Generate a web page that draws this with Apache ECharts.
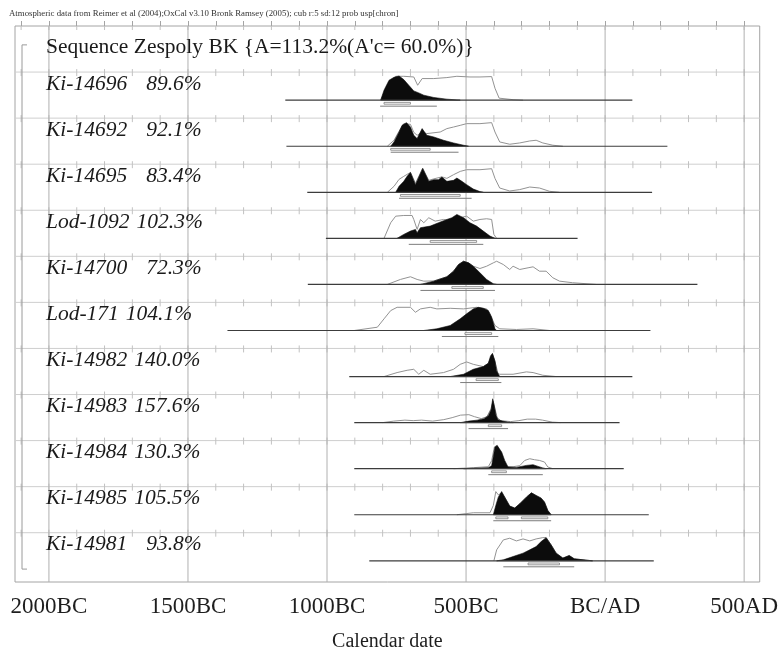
<!DOCTYPE html>
<html><head><meta charset="utf-8">
<script src="https://cdn.jsdelivr.net/npm/echarts@6/dist/echarts.min.js"></script>
<style>html,body{margin:0;padding:0;background:#fff}#c{width:781px;height:657px}</style>
</head><body><div id="c"></div>
<script>
// ---------------- data ----------------
const headerNote = 'Atmospheric data from Reimer et al (2004);OxCal v3.10 Bronk Ramsey (2005); cub r:5 sd:12 prob usp[chron]';
const sequenceLabel = "Sequence Zespoly BK {A=113.2%(A'c= 60.0%)}";
const sampleNames = ['Ki-14696','Ki-14692','Ki-14695','Lod-1092','Ki-14700','Lod-171','Ki-14982','Ki-14983','Ki-14984','Ki-14985','Ki-14981'];
const agreementIndex = [89.6, 92.1, 83.4, 102.3, 72.3, 104.1, 140.0, 157.6, 130.3, 105.5, 93.8];
const tickLabelYears = [-2000, -1500, -1000, -500, 0, 500];
const minorTickYears = [-2100,-2000,-1900,-1800,-1700,-1600,-1500,-1400,-1300,-1200,-1100,-1000,-900,-800,-700,-600,-500,-400,-300,-200,-100,0,100,200,300,400,500];
// extent of each distribution's baseline (years, BC negative)
const baselineExtent = [[-1150,98],[-1146,224],[-1071,169],[-1004,-99],[-1069,332],[-1358,163],[-920,98],[-902,52],[-902,67],[-902,157],[-848,175]];
// unmodelled likelihoods (outline) [year, relative probability]
const likelihoodCurves = [
 [[-807,0],[-783,15],[-753,24],[-724,24],[-688,23.3],[-674,15],[-658,21.7],[-616,21.7],[-569,22.7],[-533,24],[-486,23.3],[-450,23.3],[-408,23.7],[-396,12],[-381,2],[-331,0.5],[-295,0]],
 [[-783,0],[-759,6],[-741,15],[-724,22.7],[-700,22],[-688,14],[-676,11],[-658,14],[-641,12.7],[-593,14.3],[-569,17.7],[-545,19.3],[-521,21],[-498,22.7],[-450,22.7],[-408,23.7],[-396,14.3],[-379,4.3],[-343,2],[-307,3.3],[-271,5.3],[-248,6],[-224,3.3],[-188,1],[-152,0]],
 [[-783,0],[-759,6],[-741,13],[-724,16],[-700,20],[-682,9],[-656,24],[-634,12],[-616,13.5],[-587,15.5],[-569,14],[-545,17.7],[-521,21],[-498,22.7],[-450,22.7],[-408,23.7],[-396,14],[-379,4.3],[-343,1.3],[-307,2.7],[-271,5.3],[-236,4.3],[-200,1],[-164,0]],
 [[-795,0],[-771,15.7],[-753,22.3],[-724,23],[-694,23],[-688,19],[-676,9],[-664,19],[-652,15.7],[-634,20.7],[-611,17.3],[-581,19],[-545,17.3],[-521,20.7],[-498,22.3],[-474,17.3],[-450,19],[-426,19.7],[-408,19],[-400,4],[-390,0]],
 [[-783,0],[-736,5],[-700,7.7],[-676,5],[-652,3.3],[-616,3.5],[-569,7.7],[-545,13.3],[-527,20],[-509,23.3],[-491,21.7],[-474,18.3],[-450,16],[-426,18.3],[-402,21.7],[-390,23.3],[-366,20],[-343,15],[-331,18.3],[-307,15],[-277,16.7],[-259,17.7],[-236,13.3],[-212,13.3],[-188,6.7],[-164,3.3],[-117,1.7],[-33,0]],
 [[-902,0],[-819,3.3],[-795,11.7],[-771,20],[-748,23.3],[-700,23.3],[-682,18.3],[-664,21.7],[-629,23.3],[-605,21.7],[-557,22.3],[-509,21.7],[-462,23.3],[-426,21.7],[-414,16.7],[-396,5],[-379,1.7],[-319,1],[-259,1.7],[-200,0]],
 [[-795,0],[-748,4],[-712,6.3],[-688,7.3],[-670,2.3],[-652,6.3],[-629,2.3],[-581,4],[-545,7.3],[-521,12.3],[-498,14.7],[-474,12.3],[-438,10],[-420,13.3],[-405,22.3],[-396,15],[-385,3],[-379,2.3],[-331,2.3],[-283,4.7],[-259,4],[-224,1.3],[-176,0]],
 [[-800,0],[-760,1.5],[-720,2.5],[-690,2],[-660,2.5],[-620,1.5],[-580,3],[-550,5],[-520,7.5],[-490,8],[-470,6],[-445,4],[-425,6],[-410,14],[-403,22],[-396,14],[-388,5],[-375,2],[-340,1],[-310,2],[-280,3.5],[-250,3.5],[-225,2.5],[-190,0.5],[-160,0]],
 [[-545,0],[-509,0.5],[-474,1],[-420,2],[-408,8],[-398,22],[-388,23.3],[-375,14],[-366,5],[-355,2],[-331,2],[-307,3],[-289,8.3],[-271,10],[-254,9],[-236,8.3],[-218,6.7],[-206,1.7],[-188,0]],
 [[-533,0],[-474,2],[-414,2],[-402,9.3],[-393,23.3],[-384,20],[-372,22],[-361,17.7],[-343,8.7],[-325,6.7],[-307,11],[-283,17.7],[-265,22],[-248,19.3],[-230,16.7],[-218,12.7],[-206,4.3],[-194,0]],
 [[-400,0],[-390,11],[-366,21],[-343,22.7],[-319,20],[-295,22],[-271,20],[-248,22],[-224,23.3],[-212,23.3],[-194,16],[-176,7.7],[-152,2.7],[-129,5.3],[-111,2],[-69,0.7],[-45,0]]
];
// modelled posteriors (black) [year, relative probability]
const posteriorCurves = [
 [[-807,0],[-795,10],[-777,20],[-759,23],[-741,24.3],[-724,20.7],[-706,15],[-688,9.3],[-670,7.3],[-652,5],[-616,2.7],[-569,1],[-521,0]],
 [[-771,0],[-759,4.3],[-741,14.3],[-730,21],[-714,23.7],[-700,19.3],[-688,11],[-676,7.7],[-658,17.7],[-641,11],[-616,9.3],[-581,6],[-545,3.3],[-509,1],[-491,0]],
 [[-753,0],[-741,6],[-724,11],[-712,16],[-700,20],[-682,7.7],[-656,24],[-634,11],[-616,12.7],[-599,12.7],[-587,15.3],[-569,11],[-545,12],[-533,14.3],[-515,11],[-498,7.7],[-474,3.3],[-450,0.7],[-438,0]],
 [[-748,0],[-724,4],[-700,7.3],[-682,9],[-676,5.7],[-664,10.7],[-629,12.3],[-599,15.7],[-569,19],[-551,20.7],[-533,24],[-509,20.7],[-486,15.7],[-462,12.3],[-438,7.3],[-414,2.3],[-396,0]],
 [[-664,0],[-616,3.3],[-569,7.7],[-545,13.3],[-527,20],[-509,23.3],[-491,21.7],[-474,18.3],[-450,11.7],[-426,5],[-402,0.7],[-390,0]],
 [[-652,0],[-605,1.7],[-557,5],[-521,11.7],[-498,16.7],[-474,21.7],[-456,23.3],[-438,22.3],[-420,20],[-408,13.3],[-396,1.7],[-390,0]],
 [[-557,0],[-509,2.3],[-474,7.3],[-438,10],[-420,13.3],[-412,20.7],[-405,23.3],[-396,15.7],[-390,5.7],[-379,0]],
 [[-520,0],[-490,1.5],[-460,2.5],[-435,4],[-420,7],[-410,13],[-404,24],[-398,16],[-392,7],[-385,3],[-370,1.5],[-350,0.5],[-330,0]],
 [[-509,0],[-470,0.5],[-420,1],[-408,3],[-396,21.7],[-388,23.3],[-372,16.7],[-361,8.3],[-349,1.7],[-319,1.3],[-283,3.3],[-259,4],[-241,2.3],[-224,0.8],[-212,0]],
 [[-402,0],[-393,9.3],[-384,17.7],[-372,23.3],[-361,17.7],[-343,8.7],[-325,6.7],[-307,11],[-283,17.7],[-265,22],[-248,19.3],[-230,16.7],[-218,12.7],[-206,4.3],[-194,0]],
 [[-390,0],[-366,1],[-331,4.3],[-295,7.7],[-271,11],[-248,14.3],[-230,19.3],[-212,23.3],[-194,16],[-176,7.7],[-152,2.7],[-129,5.3],[-111,2],[-69,0.7],[-45,0]]
];
// highest posterior density ranges
const range68 = [[[-795,-700]],[[-771,-629]],[[-736,-521]],[[-629,-462]],[[-551,-438]],[[-504,-408]],[[-464,-384]],[[-420,-372]],[[-408,-355]],[[-393,-349],[-301,-206]],[[-277,-164]]];
const range95 = [[[-809,-605]],[[-771,-527]],[[-741,-480]],[[-706,-438]],[[-664,-396]],[[-587,-384]],[[-521,-373]],[[-491,-349]],[[-420,-224]],[[-402,-194]],[[-366,-111]]];

// ---------------- layout / style ----------------
const X_MIN = -2122, X_MAX = 556, Y_MAX = 12.07;
const FONT = '"Liberation Serif", "Times New Roman", serif';
const REF_ROW_PX = 46.3;
const measureCtx = document.createElement('canvas').getContext('2d');
function textWidth(t, font){ measureCtx.font = font; return measureCtx.measureText(t).width; }
function yearLabel(v){ return v < 0 ? (-v) + 'BC' : (v === 0 ? 'BC/AD' : v + 'AD'); }

function renderFrame(params, api){
  const xL = api.coord([X_MIN, 0])[0], xR = api.coord([X_MAX, 0])[0];
  const yT = api.coord([0, 0])[1], yB = api.coord([0, Y_MAX])[1];
  const ch = [];
  for (let r = 1; r <= sampleNames.length; r++){
    const y = api.coord([0, r])[1];
    ch.push({type:'line', shape:{x1:xL, y1:y, x2:xR, y2:y}, style:{stroke:'#cfcfcf', lineWidth:1}});
  }
  for (let r = 0; r <= sampleNames.length; r++){
    const y = api.coord([0, r])[1];
    minorTickYears.forEach(v => {
      const x = api.coord([v, 0])[0];
      ch.push({type:'line', shape:{x1:x, y1:y - (r===0?0:3), x2:x, y2:y + 4}, style:{stroke:'#c2c2c2', lineWidth:1}});
    });
  }
  tickLabelYears.forEach(v => {
    const x = api.coord([v, 0])[0];
    ch.push({type:'line', shape:{x1:x, y1:yT, x2:x, y2:yB}, style:{stroke:'#b0b0b0', lineWidth:1}});
  });
  // sequence bracket
  const bx = xL + 7, by1 = api.coord([0, 0.41])[1], by2 = api.coord([0, 11.79])[1];
  ch.push({type:'polyline', shape:{points:[[bx + 5, by1], [bx, by1], [bx, by2], [bx + 5, by2]]}, style:{stroke:'#9a9a9a', lineWidth:1, fill:null}});
  // sequence title
  ch.push({type:'text', x: xL + 31, y: api.coord([0, 0.46])[1], style:{text: sequenceLabel, font: '21.5px ' + FONT, fill:'#1a1a1a', verticalAlign:'middle', align:'left'}});
  return {type:'group', children: ch};
}

function renderRow(params, api){
  const i = params.dataIndex, row = i + 1;
  const unit = api.size([0, 1])[1];
  const k = unit / REF_ROW_PX;
  const baseY = api.coord([0, row + 0.61])[1];
  const X = yr => api.coord([yr, 0])[0];
  const xL = api.coord([X_MIN, 0])[0];
  const ch = [];
  const L = likelihoodCurves[i].map(p => [X(p[0]), baseY - p[1] * k]);
  ch.push({type:'polyline', shape:{points:L}, style:{stroke:'#939393', lineWidth:1, fill:null}});
  const P = posteriorCurves[i].map(p => [X(p[0]), baseY - p[1] * k]);
  ch.push({type:'polygon', shape:{points:P}, style:{fill:'#0c0c0c', stroke:'#0c0c0c', lineWidth:0.6}});
  const ext = baselineExtent[i];
  ch.push({type:'line', shape:{x1:X(ext[0]), y1:baseY, x2:X(ext[1]), y2:baseY}, style:{stroke:'#3c3c3c', lineWidth:1.2}});
  range68[i].forEach(r => {
    ch.push({type:'rect', shape:{x:X(r[0]), y:baseY + 2.2, width:X(r[1]) - X(r[0]), height:1.8}, style:{fill:'#fff', stroke:'#7c7c7c', lineWidth:0.8}});
  });
  range95[i].forEach(r => {
    ch.push({type:'line', shape:{x1:X(r[0]), y1:baseY + 6, x2:X(r[1]), y2:baseY + 6}, style:{stroke:'#7c7c7c', lineWidth:1}});
  });
  const font = 'italic 21.5px ' + FONT;
  const ly = api.coord([0, row + 0.26])[1];
  const nx = xL + 31;
  ch.push({type:'text', x:nx, y:ly, style:{text: sampleNames[i], font, fill:'#1a1a1a', verticalAlign:'middle', align:'left'}});
  const gap = agreementIndex[i] < 100 ? 19 : 7;
  ch.push({type:'text', x:nx + textWidth(sampleNames[i], font) + gap, y:ly, style:{text: agreementIndex[i].toFixed(1) + '%', font, fill:'#1a1a1a', verticalAlign:'middle', align:'left'}});
  return {type:'group', children: ch};
}

const chart = echarts.init(document.getElementById('c'), null, {renderer:'canvas'});
chart.setOption({
  animation: false,
  backgroundColor: '#fff',
  title: {text: headerNote, left: 4, top: 4, textStyle:{fontFamily: FONT, fontSize: 8.8, fontWeight:'normal', color:'#333'}},
  grid: {left: 15, right: 16, top: 26, bottom: 72, show: true, borderColor: '#a4a4a4', borderWidth: 1, backgroundColor:'transparent'},
  xAxis: {
    type: 'value', min: X_MIN, max: X_MAX,
    axisLine: {show: false}, splitLine: {show: false},
    axisTick: {show: true, inside: true, length: 5, customValues: minorTickYears, lineStyle: {color: '#a4a4a4'}},
    axisLabel: {customValues: tickLabelYears, formatter: yearLabel, margin: 13, fontSize: 23, fontFamily: FONT, color: '#1e1e1e'},
    name: 'Calendar date', nameLocation: 'middle', nameGap: 50,
    nameTextStyle: {fontSize: 20, fontFamily: FONT, color: '#1e1e1e'}
  },
  yAxis: {type: 'value', min: 0, max: Y_MAX, inverse: true, show: false},
  series: [
    {type: 'custom', renderItem: renderFrame, data: [[0, 0]], clip: false, silent: true, z: 1},
    {type: 'custom', renderItem: renderRow, data: sampleNames.map((n, i) => [i, i + 1]), clip: false, silent: true, z: 2}
  ]
});
</script></body></html>
